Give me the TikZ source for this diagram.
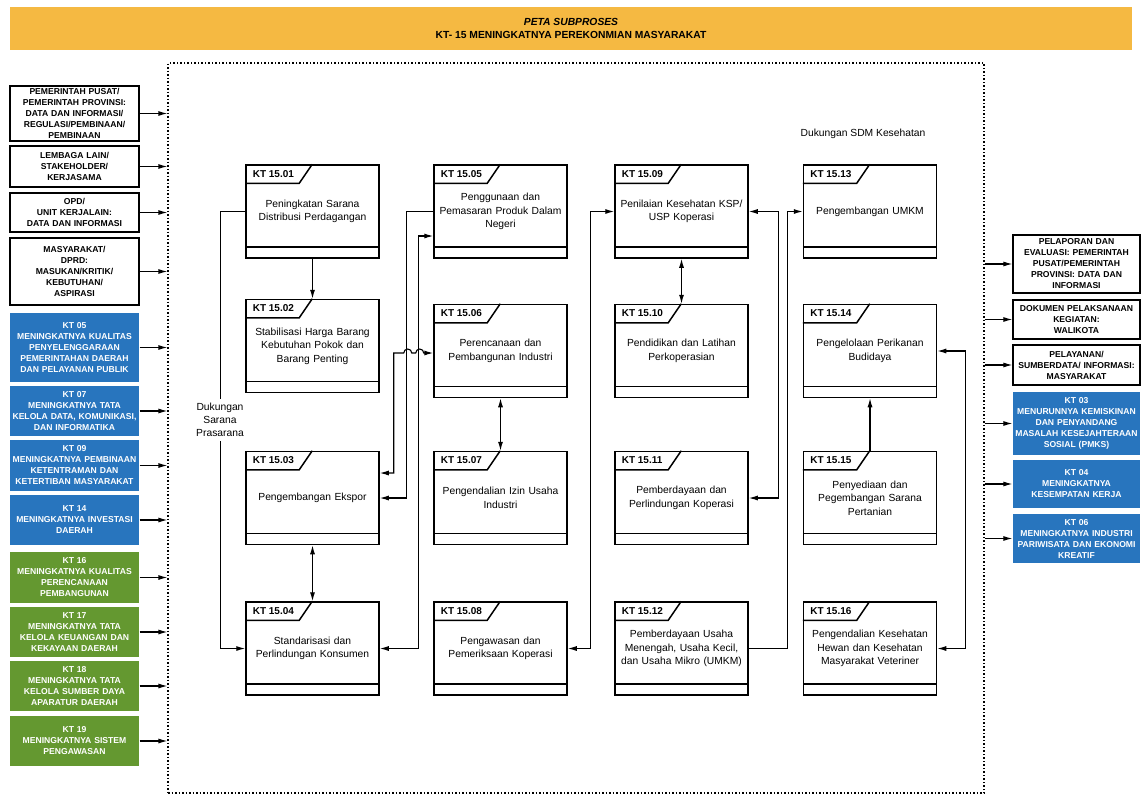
\documentclass[tikz,border=0pt]{standalone}
\usepackage{fontspec}
\setmainfont{Liberation Sans}
\usepackage{xcolor}
\usepackage{tikz}
\usetikzlibrary{arrows.meta}

\definecolor{banner}{RGB}{245,185,66}
\definecolor{ktblue}{RGB}{40,117,190}
\definecolor{ktgreen}{RGB}{100,152,48}

\tikzset{
  ktbox/.style={draw, line width=1.5pt, minimum width=133pt, minimum height=93pt, text width=127pt, align=center, inner sep=0pt, font=\fontsize{10.3}{13.5}\selectfont},
  sidebox/.style={draw, line width=1.2pt, minimum width=129pt, text width=127pt, align=center, inner sep=0pt, font=\bfseries\fontsize{8.6}{11}\selectfont},
  bluebox/.style={sidebox, draw=none, fill=ktblue, text=white},
  greenbox/.style={sidebox, draw=none, fill=ktgreen, text=white},
  link/.style={line width=1.1pt}
}

\begin{document}
\begin{tikzpicture}[x=1pt, y=1pt, >={Latex[length=9pt,width=5pt]}]
            \useasboundingbox (0,0) rectangle (1141,-795);

            % Title
            \node (title) [fill=banner, minimum width=1122pt, minimum height=43pt, align=center, font=\bfseries\fontsize{10.3}{13.5}\selectfont] at (571,-28.5) {\textit{PETA SUBPROSES}\\KT- 15 MENINGKATNYA PEREKONMIAN MASYARAKAT};
            \node (frame) [draw, line width=1.1pt, dash pattern=on 1.5pt off 2pt, minimum width=816pt, minimum height=730pt] at (576,-428) {};

            % Inputs
            \node (l1) [sidebox, minimum height=55pt] at (74.5,-113.5) {PEMERINTAH PUSAT/\\PEMERINTAH PROVINSI:\\DATA DAN INFORMASI/\\REGULASI/PEMBINAAN/\\PEMBINAAN};
            \node (l2) [sidebox, minimum height=41pt] at (74.5,-166.5) {LEMBAGA LAIN/\\STAKEHOLDER/\\KERJASAMA};
            \node (l3) [sidebox, minimum height=39pt] at (74.5,-212.5) {OPD/\\UNIT KERJALAIN:\\DATA DAN INFORMASI};
            \node (l4) [sidebox, minimum height=67pt] at (74.5,-271.5) {MASYARAKAT/\\DPRD:\\MASUKAN/KRITIK/\\KEBUTUHAN/\\ASPIRASI};
            \node (l5) [bluebox, minimum height=69pt] at (74.5,-347.5) {KT 05\\MENINGKATNYA KUALITAS\\PENYELENGGARAAN\\PEMERINTAHAN DAERAH\\DAN PELAYANAN PUBLIK};
            \node (l6) [bluebox, minimum height=50pt] at (74.5,-411) {KT 07\\MENINGKATNYA TATA\\KELOLA DATA, KOMUNIKASI,\\DAN INFORMATIKA};
            \node (l7) [bluebox, minimum height=51pt] at (74.5,-465.5) {KT 09\\MENINGKATNYA PEMBINAAN\\KETENTRAMAN DAN\\KETERTIBAN MASYARAKAT};
            \node (l8) [bluebox, minimum height=50pt] at (74.5,-520) {KT 14\\MENINGKATNYA INVESTASI\\DAERAH};
            \node (l9) [greenbox, minimum height=51pt] at (74.5,-577.5) {KT 16\\MENINGKATNYA KUALITAS\\PERENCANAAN\\PEMBANGUNAN};
            \node (l10) [greenbox, minimum height=50pt] at (74.5,-632) {KT 17\\MENINGKATNYA TATA\\KELOLA KEUANGAN DAN\\KEKAYAAN DAERAH};
            \node (l11) [greenbox, minimum height=50pt] at (74.5,-686) {KT 18\\MENINGKATNYA TATA\\KELOLA SUMBER DAYA\\APARATUR DAERAH};
            \node (l12) [greenbox, minimum height=50pt] at (74.5,-741) {KT 19\\MENINGKATNYA SISTEM\\PENGAWASAN};

            % Outputs
            \node (r1) [sidebox, minimum width=127pt, text width=125pt, minimum height=58pt] at (1076.5,-264) {PELAPORAN DAN\\EVALUASI: PEMERINTAH\\PUSAT/PEMERINTAH\\PROVINSI: DATA DAN\\INFORMASI};
            \node (r2) [sidebox, minimum width=127pt, text width=125pt, minimum height=39pt] at (1076.5,-319.5) {DOKUMEN PELAKSANAAN\\KEGIATAN:\\WALIKOTA};
            \node (r3) [sidebox, minimum width=127pt, text width=125pt, minimum height=40pt] at (1076.5,-365) {PELAYANAN/\\SUMBERDATA/ INFORMASI:\\MASYARAKAT};
            \node (r4) [bluebox, minimum width=127pt, text width=125pt, minimum height=63pt] at (1076.5,-423.5) {KT 03\\MENURUNNYA KEMISKINAN\\DAN PENYANDANG\\MASALAH KESEJAHTERAAN\\SOSIAL (PMKS)};
            \node (r5) [bluebox, minimum width=127pt, text width=125pt, minimum height=48pt] at (1076.5,-484) {KT 04\\MENINGKATNYA\\KESEMPATAN KERJA};
            \node (r6) [bluebox, minimum width=127pt, text width=125pt, minimum height=49pt] at (1076.5,-538.5) {KT 06\\MENINGKATNYA INDUSTRI\\PARIWISATA DAN EKONOMI\\KREATIF};

            % Subprocesses
            \node (kt01) [ktbox] at (312.5,-211.5) {Peningkatan Sarana\\Distribusi Perdagangan};
            \node (kt02) [ktbox] at (312.5,-346) {Stabilisasi Harga Barang\\Kebutuhan Pokok dan\\Barang Penting};
            \node (kt03) [ktbox] at (312.5,-498) {Pengembangan Ekspor};
            \node (kt04) [ktbox] at (312.5,-648.5) {Standarisasi dan\\Perlindungan Konsumen};
            \node (kt05) [ktbox] at (500.5,-211.5) {Penggunaan dan\\Pemasaran Produk Dalam\\Negeri};
            \node (kt06) [ktbox] at (500.5,-351) {Perencanaan dan\\Pembangunan Industri};
            \node (kt07) [ktbox] at (500.5,-498) {Pengendalian Izin Usaha\\Industri};
            \node (kt08) [ktbox] at (500.5,-648.5) {Pengawasan dan\\Pemeriksaan Koperasi};
            \node (kt09) [ktbox] at (681.5,-211.5) {Penilaian Kesehatan KSP/\\USP Koperasi};
            \node (kt10) [ktbox] at (681.5,-351) {Pendidikan dan Latihan\\Perkoperasian};
            \node (kt11) [ktbox] at (681.5,-498) {Pemberdayaan dan\\Perlindungan Koperasi};
            \node (kt12) [ktbox] at (681.5,-648.5) {Pemberdayaan Usaha\\Menengah, Usaha Kecil,\\dan Usaha Mikro (UMKM)};
            \node (kt13) [ktbox] at (870,-211.5) {Pengembangan UMKM};
            \node (kt14) [ktbox] at (870,-351) {Pengelolaan Perikanan\\Budidaya};
            \node (kt15) [ktbox] at (870,-498) {Penyediaan dan\\Pegembangan Sarana\\Pertanian};
            \node (kt16) [ktbox] at (870,-648.5) {Pengendalian Kesehatan\\Hewan dan Kesehatan\\Masyarakat Veteriner};

            % Tabs and bottom strips
            \foreach \n in {01,02,03,04,05,06,07,08,09,10,11,12,13,14,15,16} {
                \draw [line width=1.5pt] ([yshift=-19pt]kt\n.north west) -- ++(54pt,0) -- ([xshift=67pt]kt\n.north west);
                \draw [line width=1.5pt] ([yshift=12pt]kt\n.south west) -- ([yshift=12pt]kt\n.south east);
                \node (hd\n) [anchor=west, font=\bfseries\fontsize{10}{12}\selectfont] at ([xshift=4pt,yshift=-9.5pt]kt\n.north west) {KT 15.\n};
            }

            \node (sdm) [font=\fontsize{10.3}{12}\selectfont] at (863,-134) {Dukungan SDM Kesehatan};

            % Input and output arrows
            \foreach \s in {l1,l2,l3,l4,l5,l6,l7,l8,l9,l10,l11,l12}
                \draw [->, link] (\s) -- (\s -| frame.west);
            \foreach \s in {r1,r2,r3,r4,r5,r6}
                \draw [->, link] (\s -| frame.east) -- (\s);

            % Links between subprocesses
            \draw [->, link] (kt01) -- (kt02);
            \draw [->, link] (kt01.west) -- ++(-25,0) |- (kt04.west);
            \node (dsp) [fill=white, align=center, inner xsep=1pt, inner ysep=4pt, font=\fontsize{10.3}{13}\selectfont] at (220,-420) {Dukungan\\Sarana\\Prasarana};
            \draw [<->, link] (kt03) -- (kt04);
            \draw [->, link] (kt05.west) -- ++(-27,0) |- (kt03.east);
            \draw [<->, link] ([yshift=25pt]kt03.east) -- ++(14,0) -- ++(0,120) -- ++(10,0) arc [start angle=180, end angle=0, radius=4pt] -- ++(4,0) arc [start angle=180, end angle=0, radius=4pt] -- ([yshift=-2pt]kt06.west);
            \draw [<->, link] ([yshift=-24.5pt]kt05.west) -- ++(-15,0) |- (kt04.east);
            \draw [<->, link] (kt06) -- (kt07);
            \draw [<->, link] (kt08.east) -- ++(23,0) |- (kt09.west);
            \draw [<->, link] (kt09) -- (kt10);
            \draw [<->, link] (kt09.east) -- ++(30,0) |- (kt11.east);
            \draw [->, link] (kt12.east) -- ++(39,0) |- (kt13.west);
            \draw [->, link] (kt15) -- (kt14);
            \draw [<->, link] (kt16.east) -- ++(28.5,0) |- (kt14.east);
        \end{tikzpicture}
\end{document}
